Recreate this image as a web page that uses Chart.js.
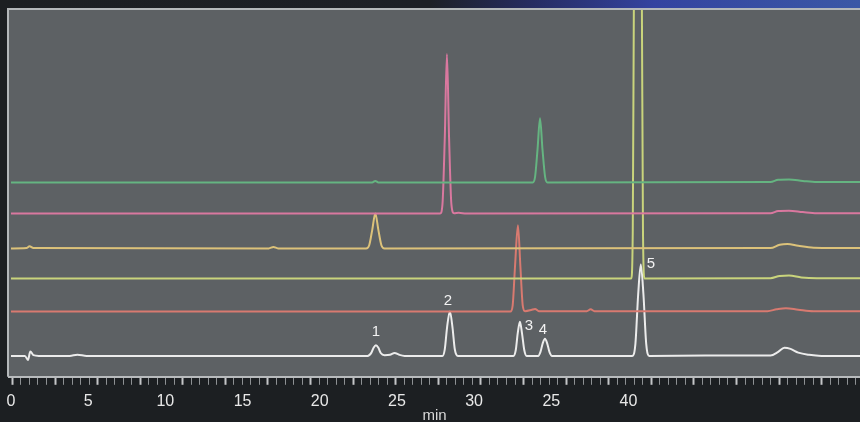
<!DOCTYPE html>
<html>
<head>
<meta charset="utf-8">
<script src="https://cdn.jsdelivr.net/npm/chart.js@4.4.1/dist/chart.umd.min.js"></script>
<style>
  html, body { margin: 0; padding: 0; overflow: hidden; width: 860px; height: 422px; }
  body {
    background:
      linear-gradient(90deg, #1c1f22 0%, #1d2026 50%, #262c62 62%, #3443a0 76%, #3b58a6 100%) top left / 100% 8px no-repeat,
      #1c1f22;
  }
  canvas { display: block; }
</style>
</head>
<body>
<canvas id="c" width="860" height="425"></canvas>
<script>
// ---- data (time in min, signal in arbitrary units) ----
const tickLabels = ['0', '5', '10', '15', '20', '25', '30', '25', '40'];

const traceGreen = [[0,53.0],[23.4,53.0],[23.6,53.4],[23.8,53.0],[33.8,53.0],[33.95,54.5],[34.11,62],[34.27,70.5],[34.43,62],[34.6,54.5],[34.75,53.0],[49.2,53.1],[49.7,53.7],[50.4,53.8],[51.3,53.4],[52.2,53.1],[55.5,53.1]];
const tracePink = [[0,44.5],[27.8,44.5],[27.95,47],[28.1,65],[28.24,88.0],[28.38,65],[28.53,47],[28.7,44.6],[29.0,44.7],[29.5,44.5],[49.2,44.6],[49.7,45.2],[50.4,45.3],[51.3,44.9],[52.2,44.6],[55.5,44.6]];
const traceYellow = [[0,35.0],[1.0,35.1],[1.2,35.6],[1.45,35.1],[16.7,35.0],[17.0,35.4],[17.3,35.0],[23.0,35.0],[23.2,35.8],[23.4,40.0],[23.6,44.5],[23.8,40.0],[24.0,35.8],[24.2,35.0],[49.2,35.1],[49.8,36.0],[50.3,36.2],[51.0,35.7],[52.0,35.2],[55.5,35.1]];
const traceLime = [[0,26.8],[40.18,26.8],[40.28,40],[40.36,110],[40.61,170],[40.86,110],[40.94,40],[41.04,26.8],[49.2,26.9],[49.8,27.5],[50.4,27.6],[51.2,27.1],[52.2,26.9],[55.5,26.9]];
const traceSalmon = [[0,17.8],[32.35,17.8],[32.5,19.5],[32.65,30],[32.84,41.3],[33.0,30],[33.15,19.5],[33.3,17.9],[33.7,18.2],[33.95,18.5],[34.2,17.9],[37.3,17.9],[37.55,18.4],[37.8,17.9],[49.0,17.9],[49.6,18.4],[50.2,18.7],[51.0,18.3],[52.0,17.9],[55.5,17.9]];
const traceWhite = [[0,5.7],[0.9,5.7],[1.1,4.6],[1.25,6.9],[1.45,5.9],[1.8,5.7],[3.8,5.7],[4.3,6.0],[4.9,5.7],
  [23.1,5.7],[23.35,6.6],[23.5,8.0],[23.64,8.6],[23.8,7.9],[23.95,6.5],[24.2,5.9],[24.55,6.0],[24.85,6.5],[25.15,6.0],[25.5,5.7],
  [27.95,5.7],[28.1,7.5],[28.25,13.5],[28.43,17.8],[28.6,13.5],[28.75,7.5],[28.95,5.7],
  [32.55,5.7],[32.7,7.3],[32.83,12.0],[32.97,15.0],[33.1,12.0],[33.25,7.3],[33.4,5.7],
  [34.15,5.7],[34.3,6.8],[34.45,9.2],[34.59,10.4],[34.73,9.2],[34.88,6.8],[35.05,5.7],
  [40.25,5.7],[40.45,9.0],[40.63,22.5],[40.8,30.6],[40.97,22.5],[41.15,9.0],[41.35,5.7],
  [45,5.8],[49.2,5.8],[49.7,6.8],[50.1,7.9],[50.5,7.6],[51.0,6.6],[51.7,6.0],[52.5,5.7],[55.5,5.7]];

const peakLabels = ['1', '2', '3', '4', '5'];
const peakTimes  = [23.64, 28.43, 32.97, 34.59, 40.8];
const peakHeights = [8.6, 17.8, 15.0, 10.4, 30.6];

// ---- styling ----
const FONT = '"Liberation Sans", Arial, sans-serif';
const labelOffsets = [[0,-13],[-2,-11],[9,4],[-2,-9],[10,-1]]; // px offsets of peak numbers

function ds(data, color) {
  return {
    data: data.map(([x, y]) => ({ x, y })),
    xAxisID: 'x',
    yAxisID: 'y',
    borderColor: color,
    borderWidth: 2,
    pointRadius: 0,
    cubicInterpolationMode: 'monotone',
    fill: false,
    clip: 0
  };
}

const frame = {
  id: 'frame',
  beforeDraw(chart) {
    const { ctx, chartArea: a } = chart;
    ctx.save();
    ctx.fillStyle = '#5d6164';
    ctx.fillRect(a.left, a.top, a.right - a.left, a.bottom - a.top);
    ctx.restore();
  },
  afterDatasetsDraw(chart) {
    const { ctx, chartArea: a } = chart;
    ctx.save();
    ctx.strokeStyle = '#b4b8ba';
    ctx.lineWidth = 2;
    ctx.beginPath();
    ctx.moveTo(a.left - 1, a.bottom);
    ctx.lineTo(a.left - 1, a.top - 1);
    ctx.lineTo(a.right, a.top - 1);
    ctx.stroke();
    // peak numbers
    const xs = chart.scales.x, ys = chart.scales.y;
    ctx.fillStyle = '#f2f2f2';
    ctx.font = '15px ' + FONT;
    ctx.textAlign = 'center';
    ctx.textBaseline = 'middle';
    peakLabels.forEach((t, i) => {
      const px = xs.getPixelForValue(peakTimes[i]) + labelOffsets[i][0];
      const py = ys.getPixelForValue(peakHeights[i]) + labelOffsets[i][1];
      ctx.fillText(t, px, py);
    });
    ctx.restore();
  }
};

new Chart(document.getElementById('c'), {
  type: 'line',
  data: {
    datasets: [
      ds(traceGreen, '#65b481'),
      ds(tracePink, '#d9789f'),
      ds(traceYellow, '#dcc27a'),
      ds(traceLime, '#c9d47c'),
      ds(traceSalmon, '#d87a70'),
      ds(traceWhite, '#ececec')
    ]
  },
  options: {
    responsive: false,
    devicePixelRatio: 1,
    animation: false,
    events: [],
    layout: { autoPadding: false, padding: { left: 9, top: 10, right: 0, bottom: 0 } },
    plugins: { legend: { display: false }, tooltip: { enabled: false } },
    scales: {
      x: {
        type: 'linear', position: 'bottom', weight: 1,
        min: -0.13, max: 55,
        grid: { display: false, drawTicks: false },
        border: { display: false },
        ticks: {
          stepSize: 5, includeBounds: false, autoSkip: false, maxRotation: 0,
          color: '#e8e8e8', font: { family: FONT, size: 16 }, padding: 7,
          callback: v => tickLabels[Math.round(v / 5)] ?? ''
        },
        title: { display: true, text: 'min', color: '#d8d8d8', font: { family: FONT, size: 15 }, padding: { top: -11, bottom: 0 } },
        afterFit: s => { s.paddingLeft = 0; s.paddingRight = 0; }
      },
      y: { type: 'linear', min: 0, max: 100, display: false },
      xt: {
        type: 'linear', position: 'bottom', weight: 0,
        min: -0.08, max: 19.9,
        grid: {
          drawOnChartArea: false, drawTicks: true, tickLength: 8,
          tickColor: c => Math.abs(c.tick.value - Math.round(c.tick.value)) < 1e-6 ? '#c4c6c8' : '#8e9194',
          tickWidth: c => Math.abs(c.tick.value - Math.round(c.tick.value)) < 1e-6 ? 2 : 1
        },
        border: { display: true, color: '#b8bbbd', width: 2 },
        ticks: { display: false, stepSize: 0.2, autoSkip: false, includeBounds: false, maxTicksLimit: 1000 },
        afterFit: s => { s.paddingLeft = 0; s.paddingRight = 0; }
      }
    }
  },
  plugins: [frame]
});
</script>
</body>
</html>
